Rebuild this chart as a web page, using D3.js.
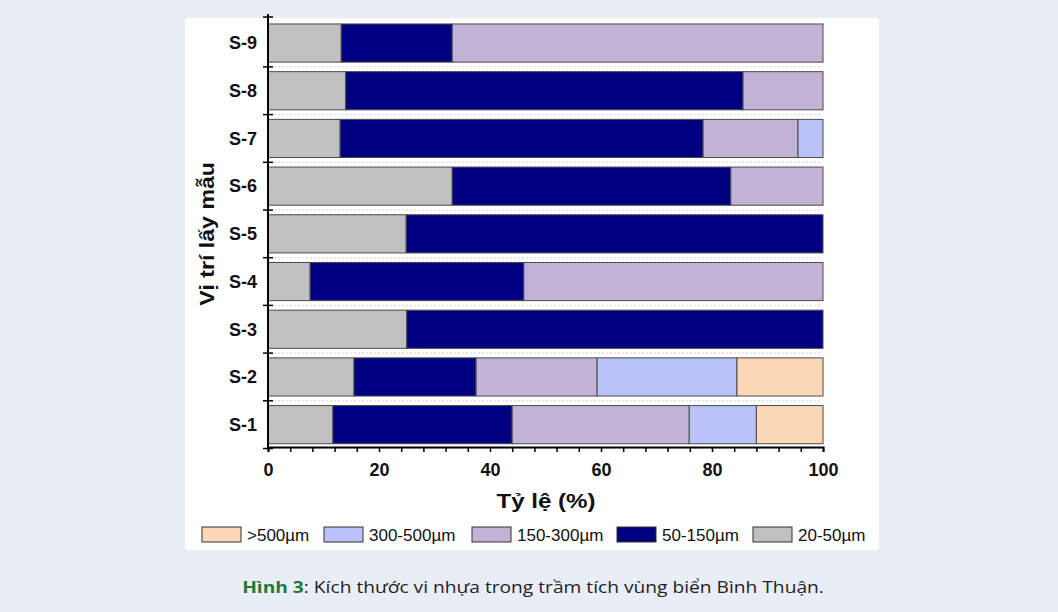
<!DOCTYPE html>
<html><head><meta charset="utf-8">
<script src="https://cdn.jsdelivr.net/npm/d3@7/dist/d3.min.js"></script>
<style>
html,body{margin:0;padding:0;background:#e9edf6;}
svg{display:block;}
</style></head>
<body>
<script>
const samples = ["S-1","S-2","S-3","S-4","S-5","S-6","S-7","S-8","S-9"];
const seriesNames = ["20-50µm","50-150µm","150-300µm","300-500µm",">500µm"];
const s20_50   = [11.7, 15.5, 25.0,  7.6, 24.9, 33.2, 13.0, 14.0, 13.2];
const s50_150  = [32.3, 22.0, 75.0, 38.5, 75.1, 50.2, 65.4, 71.6, 20.0];
const s150_300 = [31.9, 21.8,  0.0, 53.9,  0.0, 16.6, 17.1, 14.4, 66.8];
const s300_500 = [12.1, 25.2,  0.0,  0.0,  0.0,  0.0,  4.5,  0.0,  0.0];
const s500     = [12.0, 15.5,  0.0,  0.0,  0.0,  0.0,  0.0,  0.0,  0.0];
const xTicks = [0,20,40,60,80,100];
const legendOrder = [">500µm","300-500µm","150-300µm","50-150µm","20-50µm"];
const colors = {"20-50µm":"#c0c0c0","50-150µm":"#000080","150-300µm":"#c2b2d6","300-500µm":"#b9c3f7",">500µm":"#fad7b5"};

const W=1058,H=612;
const FONT="Liberation Sans, Arial, sans-serif";
const svg=d3.select("body").append("svg").attr("width",W).attr("height",H);
svg.append("rect").attr("x",0).attr("y",0).attr("width",W).attr("height",H).attr("fill","#e9edf6");
svg.append("rect").attr("x",185).attr("y",18).attr("width",694).attr("height",532).attr("fill","#ffffff");

const x=d3.scaleLinear().domain([0,100]).range([268,823]);
const y=d3.scaleBand().domain(samples.slice().reverse()).range([19.2,448.5]).paddingInner(0.2).paddingOuter(0.1);

const rows=samples.map((s,i)=>({sample:s,"20-50µm":s20_50[i],"50-150µm":s50_150[i],"150-300µm":s150_300[i],"300-500µm":s300_500[i],">500µm":s500[i]}));
const stacked=d3.stack().keys(seriesNames)(rows);

// faint dotted separators
const step=y.step();
samples.forEach(s=>{
  const yy=y(s)+y.bandwidth()+(step-y.bandwidth())/2;
  svg.append("line").attr("x1",270).attr("x2",822).attr("y1",yy).attr("y2",yy)
    .attr("stroke","#dde0e6").attr("stroke-width",1.5).attr("stroke-dasharray","2,2");
});

svg.append("g").selectAll("g").data(stacked).join("g")
  .attr("fill",d=>colors[d.key])
  .selectAll("rect").data(d=>d.filter(v=>v[1]-v[0]>0)).join("rect")
  .attr("x",d=>x(d[0])).attr("width",d=>x(d[1])-x(d[0]))
  .attr("y",d=>y(d.data.sample)).attr("height",y.bandwidth())
  .attr("stroke","#4a4a4a").attr("stroke-width",1);

// x axis
const xAxisMinor=d3.axisBottom(x).tickValues(d3.range(0,101,4)).tickSize(5).tickFormat("");
const gx=svg.append("g").attr("transform","translate(0,447)").call(xAxisMinor);
gx.select(".domain").attr("stroke","#000").attr("stroke-width",2);
gx.selectAll(".tick line").attr("stroke","#000").attr("stroke-width",1.5);
const gx2=svg.append("g").attr("transform","translate(0,447)").call(d3.axisBottom(x).tickValues(xTicks).tickSize(0).tickPadding(16));
gx2.select(".domain").remove();
gx2.selectAll("text").attr("font-family",FONT).attr("font-size",18).attr("font-weight","bold").attr("fill","#111");

// y axis
svg.append("line").attr("x1",268).attr("x2",268).attr("y1",14).attr("y2",448).attr("stroke","#000").attr("stroke-width",2);
const bounds=[17].concat(samples.map(s=>y(s)+y.bandwidth()+(step-y.bandwidth())/2));
bounds.forEach(b=>{
  svg.append("line").attr("x1",263).attr("x2",273).attr("y1",b).attr("y2",b).attr("stroke","#000").attr("stroke-width",1.5);
});
svg.append("g").selectAll("text").data(samples).join("text")
  .attr("x",257).attr("y",d=>y(d)+y.bandwidth()/2).attr("dy","0.35em").attr("text-anchor","end")
  .attr("font-family",FONT).attr("font-size",18).attr("font-weight","bold").attr("fill","#111")
  .text(d=>d);

// titles
svg.append("text").attr("transform","translate(546,508) scale(1.15,1)").attr("text-anchor","middle")
  .attr("font-family",FONT).attr("font-size",21).attr("font-weight","bold").attr("fill","#111")
  .text("Tỷ lệ (%)");
svg.append("text").attr("transform","translate(214,234) rotate(-90) scale(1.1,1)").attr("text-anchor","middle")
  .attr("font-family",FONT).attr("font-size",21).attr("font-weight","bold").attr("fill","#111")
  .text("Vị trí lấy mẫu");

// legend
const legX=[202,324,472,617,753];
const lg=svg.append("g").selectAll("g").data(legendOrder).join("g")
  .attr("transform",(d,i)=>`translate(${legX[i]},527)`);
lg.append("rect").attr("width",39).attr("height",15).attr("fill",d=>colors[d]).attr("stroke","#333").attr("stroke-width",1);
lg.append("text").attr("x",45).attr("y",14).attr("font-family",FONT).attr("font-size",17).attr("fill","#111").text(d=>d);

// caption
const cap=svg.append("text").attr("transform","translate(533,593) scale(1.2,1)").attr("text-anchor","middle")
  .attr("font-family","Open Sans, Noto Sans, sans-serif").attr("font-size",16).attr("fill","#222");
cap.append("tspan").attr("font-weight","bold").attr("fill","#1e7a35").text("Hình 3");
cap.append("tspan").text(": Kích thước vi nhựa trong trầm tích vùng biển Bình Thuận.");
</script>
</body></html>
